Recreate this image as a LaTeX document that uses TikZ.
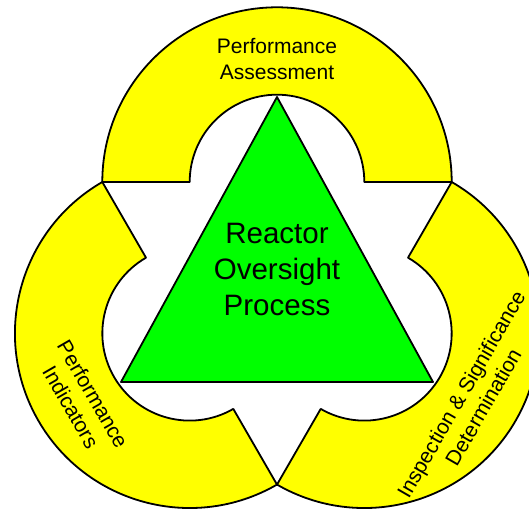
\documentclass[tikz,border=0pt]{standalone}
\usepackage{fontspec}
\setmainfont{Liberation Sans}
\definecolor{bandyellow}{RGB}{255,255,0}
\definecolor{coregreen}{RGB}{0,255,0}

\begin{document}
\begin{tikzpicture}[x=1pt, y=1pt, line join=round,
                    band/.style={draw=black, fill=bandyellow, line width=1.8pt},
                    core/.style={draw=black, fill=coregreen, line width=1.8pt},
                    ringtext/.style={align=center, inner sep=0pt, font=\fontsize{21}{25.5}\selectfont},
                    coretext/.style={align=center, inner sep=0pt, font=\fontsize{29.5}{36}\selectfont}]

    \useasboundingbox (0,0) rectangle (529,511);
    \clip (0,0) rectangle (529,511);

    \coordinate (assess) at (277,329);
    \coordinate (indic) at ([shift={(240:174.7)}]assess);
    \coordinate (inspect) at ([shift={(300:174.7)}]assess);

    \draw[band] ([shift={(0:174.7)}]assess) arc[start angle=0, end angle=180, radius=174.7pt]
        -- ([shift={(180:87.3)}]assess) arc[start angle=180, end angle=0, radius=87.3pt] -- cycle;
    \draw[band] ([shift={(120:174.7)}]indic) arc[start angle=120, end angle=300, radius=174.7pt]
        -- ([shift={(300:87.3)}]indic) arc[start angle=300, end angle=120, radius=87.3pt] -- cycle;
    \draw[band] ([shift={(-120:174.7)}]inspect) arc[start angle=-120, end angle=60, radius=174.7pt]
        -- ([shift={(60:87.3)}]inspect) arc[start angle=60, end angle=-120, radius=87.3pt] -- cycle;

    \coordinate (apex) at (277,414);
    \coordinate (baseL) at (121,129);
    \coordinate (baseR) at (433,129);
    \draw[core] (apex) -- (baseL) -- (baseR) -- cycle;

    \node[coretext] (rop) at (277,242) {Reactor\\Oversight\\Process};
    \node[ringtext] (pa) at (277,452) {Performance\\Assessment};
    \node[ringtext, rotate=-60] (pi) at ([shift={(212:127)}]indic) {Performance\\Indicators};
    \node[ringtext, rotate=60] (isd) at ([shift={(-32:127)}]inspect) {Inspection \& Significance\\Determination};
\end{tikzpicture}
\end{document}
